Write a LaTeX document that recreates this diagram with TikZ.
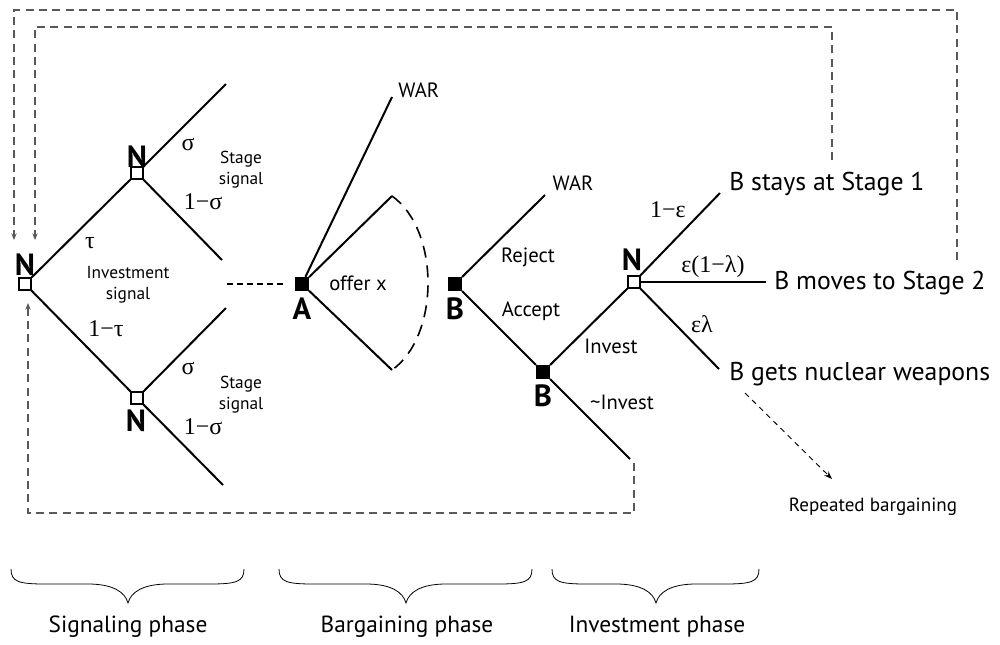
\documentclass[tikz,border=0pt]{standalone}
\usepackage{fontspec}
\setmainfont{PT Sans}
\newfontfamily\gk{Liberation Serif}
\usetikzlibrary{arrows.meta}
\newcommand\phasebrace[3]{%
 \draw[bracel] (#1,569) .. controls (#1,582) and ({#1+8},584) .. ({#1+35},584) -- ({#2-40},584)
   .. controls ({#2-15},584) and ({#2-3},592) .. (#2,603)
   .. controls ({#2+3},592) and ({#2+15},584) .. ({#2+40},584) -- ({#3-35},584)
   .. controls ({#3-8},584) and (#3,582) .. (#3,569);}
\begin{document}
\begin{tikzpicture}[x=0.75pt,y=-0.75pt,
 tree/.style={line width=1.5pt},
 wsq/.style={draw, line width=1.2pt, fill=white, minimum size=8.6pt, inner sep=0pt},
 bsq/.style={fill=black, minimum size=10.2pt, inner sep=0pt},
 player/.style={font=\fontsize{23}{25}\selectfont\bfseries, inner sep=0pt, anchor=base},
 small/.style={font=\fontsize{15.5}{17}\selectfont, inner sep=0pt, anchor=base},
 tiny/.style={font=\fontsize{13}{15.5}\selectfont, align=center, inner sep=0pt},
 greek/.style={font=\gk\fontsize{18}{20}\selectfont, inner sep=0pt, anchor=base},
 outcome/.style={font=\fontsize{19.3}{21}\selectfont, inner sep=0pt, anchor=base west},
 phase/.style={font=\fontsize{17.5}{19}\selectfont, inner sep=0pt, anchor=base},
 loopline/.style={draw=black!65, line width=0.85pt, dash pattern=on 6pt off 4pt, -{Stealth[length=5pt,width=4pt]}},
 rbline/.style={line width=0.7pt, dash pattern=on 4pt off 3.5pt, -{Stealth[length=6pt,width=4.5pt]}},
 dotl/.style={line width=1.3pt, dash pattern=on 4.5pt off 3pt},
 arcl/.style={line width=1.2pt, dash pattern=on 9pt off 6pt},
 bracel/.style={line width=0.6pt}
]
\useasboundingbox (0,0) rectangle (1000,644);

% decision nodes
\node[wsq] (root) at (25,284) {};
\node[wsq] (n1) at (137,173) {};
\node[wsq] (n2) at (137,398) {};
\node[bsq] (A) at (302,284) {};
\node[bsq] (B1) at (455,284) {};
\node[bsq] (B2) at (543,372) {};
\node[wsq] (N3) at (634,282) {};

% free ends
\coordinate (e1) at (226,84);
\coordinate (e2) at (222,260);
\coordinate (e3) at (226,308);
\coordinate (e4) at (223,485);
\coordinate (d1) at (227,284);
\coordinate (d2) at (287,284);
\coordinate (w1) at (392,97);
\coordinate (m1) at (392,196);
\coordinate (m2) at (392,370);
\coordinate (w2) at (545,195);
\coordinate (ni) at (630,459);
\coordinate (s1) at (720,193);
\coordinate (s2) at (766,282);
\coordinate (s3) at (719,369);

% tree branches
\draw[tree] (root) -- (n1);
\draw[tree] (n1) -- (e1);
\draw[tree] (n1) -- (e2);
\draw[tree] (root) -- (n2);
\draw[tree] (n2) -- (e3);
\draw[tree] (n2) -- (e4);
\draw[dotl] (d1) -- (d2);
\draw[tree] (A) -- (w1);
\draw[tree] (A) -- (m1);
\draw[tree] (A) -- (m2);
\draw[arcl] (m1) .. controls (440,230) and (440,336) .. (m2);
\draw[tree] (B1) -- (w2);
\draw[tree] (B1) -- (B2);
\draw[tree] (B2) -- (N3);
\draw[tree] (B2) -- (ni);
\draw[tree] (N3) -- (s1);
\draw[tree] (N3) -- (s2);
\draw[tree] (N3) -- (s3);

% feedback loops
\coordinate (o1) at (957,260); \coordinate (o2) at (14,10); \coordinate (o3) at (14,240);
\coordinate (i1) at (832,160); \coordinate (i2) at (35,27); \coordinate (i3) at (35,240);
\coordinate (b1) at (634,463); \coordinate (b2) at (28,513); \coordinate (b3) at (28,303);
\draw[loopline] (o1) |- (o2) -- (o3);
\draw[loopline] (i1) |- (i2) -- (i3);
\draw[loopline] (b1) |- (b2) -- (b3);
\coordinate (r1) at (745,393); \coordinate (r2) at (832,479);
\draw[rbline] (r1) -- (r2);

% player labels
\node[player] (Lroot) at (25,275) {N};
\node[player] (Ln1) at (137,167) {N};
\node[player] (Ln2) at (136,431) {N};
\node[player] (LA) at (302,319) {A};
\node[player] (LB1) at (455,319) {B};
\node[player] (LB2) at (543,406) {B};
\node[player] (LN3) at (632,270) {N};

% probabilities
\node[greek] (tau) at (90,248) {τ};
\node[greek] (ntau) at (106,336) {1−τ};
\node[greek] (sg1) at (188,150) {σ};
\node[greek] (nsg1) at (203,209) {1−σ};
\node[greek] (sg2) at (188,374) {σ};
\node[greek] (nsg2) at (203,434) {1−σ};
\node[greek] (neps) at (668,217) {1−ε};
\node[greek] (epsl) at (713,272) {ε(1−λ)};
\node[greek] (el) at (702,332) {ελ};

% small labels
\node[tiny] (ss1) at (241,169.5) {Stage\\signal};
\node[tiny] (ss2) at (241,394.5) {Stage\\signal};
\node[tiny] (is) at (128,284.5) {Investment\\signal};
\node[small, anchor=base west] (war1) at (398,97) {WAR};
\node[small] (war2) at (573,190) {WAR};
\node[small] (rej) at (528,262) {Reject};
\node[small] (acc) at (531,316) {Accept};
\node[small] (inv) at (611,353) {Invest};
\node[small] (ninv) at (622,409) {\textasciitilde Invest};
\node[small] (offer) at (358,290) {offer x};

% outcomes
\node[outcome] (o-stay) at (729,190) {B stays at Stage 1};
\node[outcome] (o-move) at (774,289) {B moves to Stage 2};
\node[outcome] (o-nuke) at (729,380) {B gets nuclear weapons};
\node[small, font=\fontsize{14.3}{16}\selectfont] (rep) at (873,511) {Repeated bargaining};

% phases
\phasebrace{11}{128}{244}
\phasebrace{279}{406}{532}
\phasebrace{552}{656}{759}
\node[phase] (p1) at (128,632) {Signaling phase};
\node[phase] (p2) at (407,632) {Bargaining phase};
\node[phase] (p3) at (657,632) {Investment phase};
\end{tikzpicture}
\end{document}
